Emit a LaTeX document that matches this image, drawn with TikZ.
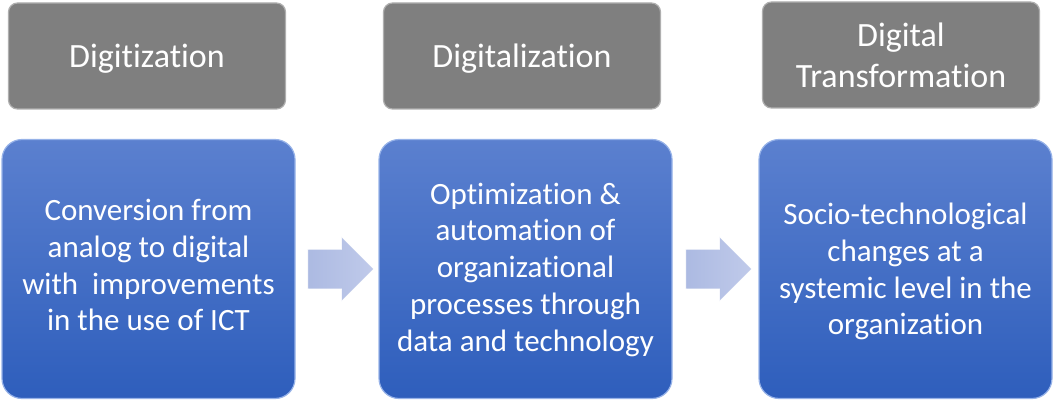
\documentclass[tikz,border=0pt]{standalone}
\usepackage{fontspec}
\setmainfont{Carlito}[RawFeature={-liga;-clig;-calt;-dlig}]
\usetikzlibrary{shapes.arrows}
\definecolor{grayfill}{RGB}{127,127,127}
\definecolor{grayedge}{RGB}{175,175,175}
\definecolor{bluetop}{RGB}{91,128,207}
\definecolor{bluebot}{RGB}{46,94,188}
\definecolor{blueedge}{RGB}{150,178,232}
\definecolor{arrowA}{RGB}{192,202,234}
\definecolor{arrowB}{RGB}{172,186,226}
\tikzset{
  headbox/.style={rectangle, rounded corners=9pt, fill=grayfill, draw=grayedge, line width=1.2pt,
    text=white, align=center, inner sep=0pt, minimum width=277pt, minimum height=106pt,
    text depth=0pt, font=\fontsize{34}{41}\selectfont},
  bodybox/.style={rectangle, rounded corners=20pt, top color=bluetop, bottom color=bluebot, draw=blueedge, line width=1.2pt,
    text=white, align=center, inner sep=0pt, minimum width=293pt, minimum height=259pt,
    font=\fontsize{31}{36.8}\selectfont},
  flowarrow/.style={single arrow, left color=arrowB, right color=arrowA, draw=white, line width=0.6pt,
    inner xsep=0pt, inner ysep=19.5pt, minimum width=64pt, minimum height=66pt,
    single arrow head extend=12.5pt, shape border rotate=0}
}
\begin{document}
\begin{tikzpicture}[x=1pt,y=-1pt]
\useasboundingbox (0,0) rectangle (1064,401);
\node[headbox] (h1) at (147,56) {Digitization};
\node[headbox] (h2) at (522,56) {Digitalization};
\node[headbox] (h3) at (901,55) {Digital\\Transformation};
\node[bodybox, text depth=8pt] (b1) at (148.5,269) {Conversion from\\analog to digital\\with~ improvements\\in the use of ICT};
\node[bodybox, text depth=4pt] (b2) at (525.5,269) {Optimization \&\\automation of\\organizational\\processes through\\data and technology};
\node[bodybox, text depth=0pt] (b3) at (905.5,269) {Socio-technological\\changes at a\\systemic level in the\\organization};
\node[flowarrow] (a1) at (331,269) {};
\node[flowarrow] (a2) at (709,269) {};
\end{tikzpicture}
\end{document}
